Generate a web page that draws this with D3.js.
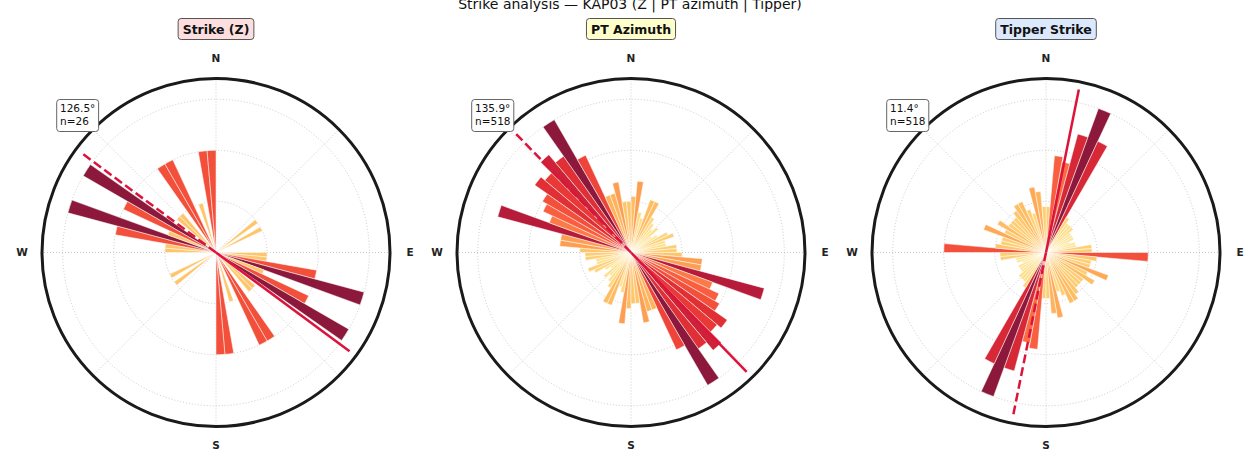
<!DOCTYPE html>
<html><head><meta charset="utf-8">
<script src="https://cdn.jsdelivr.net/npm/d3@7"></script>
<style>
body{margin:0;background:#fff;}
svg{display:block;font-family:"DejaVu Sans",sans-serif;}
</style>
</head><body>
<svg id="chart" width="1260" height="450"></svg>
<script>
// ---- data ----
const binStarts = d3.range(0, 180, 5);            // 5° bins over 0-180 (mirrored to 180-360)
const strikeZCounts = [0,0,0,0,0,0,0,0,0,0,1,0,1,0,0,0,0,0,1,1,2,3,1,2,3,0,1,1,0,2,2,0,1,0,2,2];
const ptAzimuthCounts = [11,14,8,7,11,11,8,7,6,7,5,6,8,9,7,7,9,9,10,14,14,27,17,19,20,23,22,25,23,30,21,12,12,14,10,10];
const tipperStrikeCounts = [9,19,18,24,30,24,8,7,7,7,6,6,6,5,6,6,9,9,20,10,9,9,13,9,11,9,9,9,10,11,11,9,8,13,12,9];
const panelTitles = ["Strike (Z)", "PT Azimuth", "Tipper Strike"];
const titleFills = ["#fcdede", "#ffffcc", "#dce8fb"];
const meanAngles = [126.5, 135.9, 11.4];
const sampleSizes = [26, 518, 518];
const radialTicks = [[1,2,3],[10,20,30],[10,20,30]];
const compassLabels = ["N","E","S","W"];
const compassAngles = [0, 90, 180, 270];
const gridAngles = d3.range(0, 360, 45);
const suptitle = "Strike analysis — KAP03 (Z | PT azimuth | Tipper)";

const panels = [strikeZCounts, ptAzimuthCounts, tipperStrikeCounts];

// ---- layout ----
const svg = d3.select("#chart");
const R = 174;
const centersX = [216, 631, 1046];
const cy = 252.5;
const rad = d => d * Math.PI / 180;

svg.append("text").attr("x", 630).attr("y", 8.5).attr("text-anchor", "middle")
  .attr("font-size", 14).attr("fill", "#111").text(suptitle);

panels.forEach((counts, i) => {
  const cx = centersX[i];
  const maxC = d3.max(counts);
  const rmax = maxC * 1.135;
  const r = d3.scaleLinear().domain([0, rmax]).range([0, R]);
  const color = v => d3.interpolateYlOrRd(v / maxC);
  const g = svg.append("g").attr("transform", `translate(${cx},${cy})`);

  // grid
  g.selectAll("circle.grid").data(radialTicks[i]).join("circle")
    .attr("r", d => r(d)).attr("fill", "none").attr("stroke", "#bdbdbd")
    .attr("stroke-width", 0.8).attr("stroke-dasharray", "1,2");
  g.selectAll("line.grid").data(gridAngles).join("line")
    .attr("x1", 0).attr("y1", 0)
    .attr("x2", d => R * Math.sin(rad(d))).attr("y2", d => -R * Math.cos(rad(d)))
    .attr("stroke", "#bdbdbd").attr("stroke-width", 0.8).attr("stroke-dasharray", "1,2");

  // bars (mirrored)
  const bars = [];
  binStarts.forEach((a, k) => {
    if (counts[k] > 0) {
      bars.push({a: a, v: counts[k]});
      bars.push({a: a + 180, v: counts[k]});
    }
  });
  const arc = d3.arc().innerRadius(0);
  g.selectAll("path.bar").data(bars).join("path")
    .attr("d", d => arc({outerRadius: r(d.v), startAngle: rad(d.a), endAngle: rad(d.a + 5)}))
    .attr("fill", d => color(d.v)).attr("fill-opacity", 0.9)
    .attr("stroke", "#fff").attr("stroke-width", 0.5);

  // direction lines
  const L = r(rmax * 0.955);
  const th = meanAngles[i];
  g.append("line").attr("x1", 0).attr("y1", 0)
    .attr("x2", L * Math.sin(rad(th))).attr("y2", -L * Math.cos(rad(th)))
    .attr("stroke", "#dc143c").attr("stroke-width", 2.5);
  g.append("line").attr("x1", 0).attr("y1", 0)
    .attr("x2", L * Math.sin(rad(th + 180))).attr("y2", -L * Math.cos(rad(th + 180)))
    .attr("stroke", "#dc143c").attr("stroke-width", 2.5).attr("stroke-dasharray", "9,4");

  // outer circle
  g.append("circle").attr("r", R).attr("fill", "none").attr("stroke", "#1a1a1a").attr("stroke-width", 3);

  // compass labels
  g.selectAll("text.cmp").data(compassLabels).join("text")
    .attr("x", (d, k) => 194 * Math.sin(rad(compassAngles[k])))
    .attr("y", (d, k) => -194 * Math.cos(rad(compassAngles[k])) - (k === 2 ? 1.5 : 0))
    .attr("dy", "0.36em").attr("text-anchor", "middle")
    .attr("font-size", 10.5).attr("font-weight", "bold").attr("fill", "#222").text(d => d);

  // title box
  const tg = svg.append("g").attr("transform", `translate(${cx},29)`);
  const tt = tg.append("text").attr("text-anchor", "middle").attr("dy", "0.36em")
    .attr("font-size", 12.5).attr("font-weight", "bold").attr("fill", "#111").text(panelTitles[i]);
  const bb = tt.node().getBBox();
  tg.insert("rect", "text").attr("x", bb.x - 4.5).attr("y", -10.5).attr("width", bb.width + 9).attr("height", 21)
    .attr("rx", 3).attr("fill", titleFills[i]).attr("stroke", "#555").attr("stroke-width", 1);

  // annotation box
  const ag = svg.append("g").attr("transform", `translate(${cx - 159.3},99.5)`);
  const at = ag.append("text").attr("font-size", 10.5).attr("fill", "#111");
  at.append("tspan").attr("x", 3.3).attr("y", 12).text(th.toFixed(1) + "°");
  at.append("tspan").attr("x", 3.3).attr("y", 25.5).text("n=" + sampleSizes[i]);
  const ab = at.node().getBBox();
  ag.insert("rect", "text").attr("x", 0).attr("y", 0).attr("width", ab.width + 6.6).attr("height", 32)
    .attr("rx", 3).attr("fill", "#fff").attr("stroke", "#666").attr("stroke-width", 1);
});
</script>
</body></html>
